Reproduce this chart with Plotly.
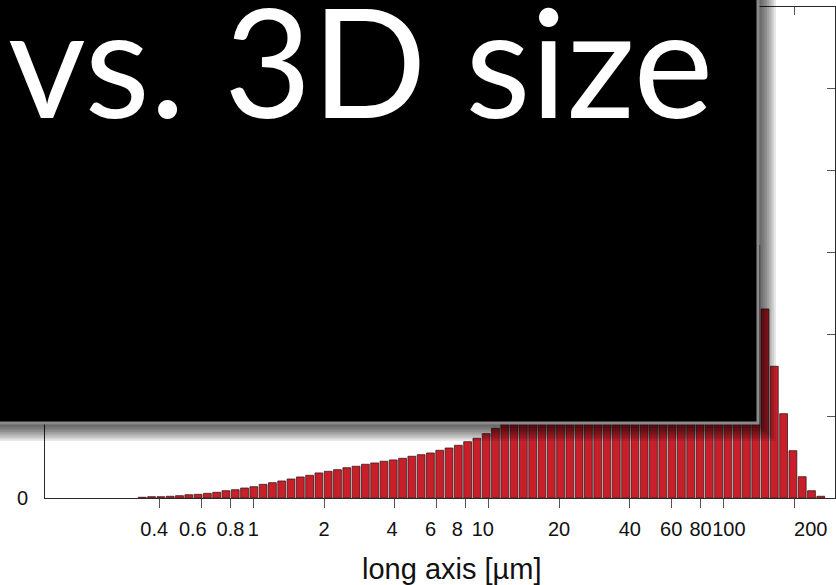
import plotly.graph_objects as go

# ---------------- data ----------------
bin_edges_um = [
    0.3221, 0.3527, 0.3864, 0.4232, 0.4636, 0.5078, 0.5562, 0.6092, 0.6673, 0.7309,
    0.8006, 0.8769, 0.9605, 1.0521, 1.1524, 1.2623, 1.3826, 1.5144, 1.6588, 1.8170,
    1.9902, 2.1800, 2.3878, 2.6155, 2.8649, 3.1381, 3.4373, 3.7651, 4.1240, 4.5173,
    4.9480, 5.4197, 5.9366, 6.5027, 7.1225, 7.8017, 8.5455, 9.3602, 10.252, 11.230,
    12.300, 13.473, 14.757, 16.164, 17.705, 19.393, 21.242, 23.267, 25.486, 27.916,
    30.577, 33.493, 36.686, 40.184, 44.015, 48.212, 52.808, 57.843, 63.358, 69.400,
    76.017, 83.265, 91.201, 99.896, 109.42, 119.86, 131.28, 143.80, 157.51, 172.53,
    188.98, 207.00, 226.73, 248.35, 272.03,
]

share_pct = [
    0.009, 0.016, 0.016, 0.021, 0.028, 0.040, 0.045, 0.057, 0.070, 0.089,
    0.101, 0.122, 0.138, 0.167, 0.187, 0.208, 0.232, 0.257, 0.277, 0.306,
    0.326, 0.346, 0.370, 0.388, 0.412, 0.428, 0.449, 0.465, 0.485, 0.510,
    0.529, 0.550, 0.583, 0.611, 0.644, 0.688, 0.730, 0.786, 0.852, 0.93,
    1.02, 1.12, 1.23, 1.35, 1.48, 1.62, 1.77, 1.93, 2.10, 2.28,
    2.47, 2.67, 2.88, 3.10, 3.33, 3.57, 3.82, 4.08, 4.35, 4.62,
    4.88, 5.10, 5.25, 5.20, 4.85, 4.05, 3.09, 2.31, 1.61, 1.03,
    0.578, 0.260, 0.089, 0.021,
]

x_tick_values = [0.4, 0.6, 0.8, 1, 2, 4, 6, 8, 10, 20, 40, 60, 80, 100, 200]
x_tick_labels = ["0.4", "0.6", "0.8", "1", "2", "4", "6", "8", "10",
                 "20", "40", "60", "80", "100", "200"]
y_tick_values = [0, 1, 2, 3, 4, 5, 6]
y_tick_labels = ["0", "1", "2", "3", "4", "5", "6"]

overlay_text = "vs. 3D size"
x_title_text = "long axis [µm]"

# ---------------- styling / layout helpers ----------------
NB = "\u00a0"
label_pad = {"0.4": (0, 2), "0.6": (0, 3), "4": (0, 1), "6": (0, 2), "8": (0, 3),
             "10": (0, 2), "100": (2, 0), "200": (6, 0)}
shown_labels = []
for lab in x_tick_labels:
    lead, trail = label_pad.get(lab, (0, 0))
    shown_labels.append(NB * lead + lab + NB * trail)

X_RANGE = [-0.8864, 2.4753]
Y_RANGE = [0, 6]
PL, PR, PT, PB = 45, 835, 7, 498


def px_x(p):
    return (p - PL) / (PR - PL)


def px_y(p):
    return (PB - p) / (PB - PT)


# bar extents on the log axis (small gap between bins)
gap = 0.08
bar_x, bar_w = [], []
for a, b in zip(bin_edges_um[:-1], bin_edges_um[1:]):
    r = (b / a) ** gap
    lo, hi = a * r, b / r
    bar_x.append((lo + hi) / 2)
    bar_w.append(hi - lo)

fig = go.Figure()
fig.add_trace(go.Bar(
    x=bar_x, y=share_pct, width=bar_w,
    marker=dict(color="#c81f2b", line=dict(color="#3a1a1a", width=0.8)),
    hoverinfo="skip", showlegend=False,
))
# helper trace to activate the mirrored (top/right) axes
fig.add_trace(go.Scatter(
    x=bin_edges_um[:1], y=share_pct[:1], xaxis="x2", yaxis="y2",
    mode="markers", marker=dict(opacity=0), hoverinfo="skip", showlegend=False,
))

axis_color = "#2a2a2a"
tick_font = dict(family="Liberation Sans, Arial, sans-serif", size=20, color="#111111")

fig.update_layout(
    width=836, height=585,
    margin=dict(l=PL, r=836 - PR, t=PT, b=585 - PB),
    paper_bgcolor="white", plot_bgcolor="white",
    showlegend=False,
    xaxis=dict(type="log", range=X_RANGE, tickmode="array",
               tickvals=x_tick_values, ticktext=shown_labels, tickangle=0,
               ticks="outside", ticklen=9, tickwidth=1, tickcolor="#555555",
               showline=True, linecolor=axis_color, linewidth=1,
               showgrid=False, zeroline=False, tickfont=tick_font,
               ticklabelstandoff=4),
    xaxis2=dict(type="log", range=X_RANGE, overlaying="x", side="top",
                tickmode="array", tickvals=x_tick_values, ticks="inside", ticklen=8,
                tickwidth=1, tickcolor="#555555", showticklabels=False,
                showline=True, linecolor=axis_color, linewidth=1,
                showgrid=False, zeroline=False),
    yaxis=dict(range=Y_RANGE, tickmode="array", tickvals=y_tick_values,
               ticktext=y_tick_labels, ticks="inside", ticklen=8, tickwidth=1,
               tickcolor="#555555", showline=True, linecolor=axis_color, linewidth=1,
               showgrid=False, zeroline=False, tickfont=tick_font,
               ticklabelstandoff=12),
    yaxis2=dict(range=Y_RANGE, overlaying="y", side="right", tickmode="array",
                tickvals=y_tick_values, ticks="inside", ticklen=8, tickwidth=1,
                tickcolor="#555555", showticklabels=False, showline=True,
                linecolor=axis_color, linewidth=1, showgrid=False, zeroline=False),
)

# soft shadow of the title slab
shapes = []
box_r, box_b = 758, 423
for k in range(10, 0, -1):
    shapes.append(dict(
        type="rect", xref="paper", yref="paper", layer="above",
        x0=px_x(-60), y0=px_y(box_b + 1.8 * k), x1=px_x(box_r + 1.8 * k), y1=px_y(-60),
        fillcolor="rgba(0,0,0,0.09)", line=dict(width=0),
    ))
# the black title slab
shapes.append(dict(
    type="rect", xref="paper", yref="paper", layer="above",
    x0=px_x(-60), y0=px_y(box_b), x1=px_x(box_r), y1=px_y(-60),
    fillcolor="black", line=dict(color="#8a8a8a", width=3),
))
fig.update_layout(shapes=shapes)

fig.add_annotation(
    text=overlay_text, xref="paper", yref="paper",
    x=px_x(6), y=px_y(152), xanchor="left", yanchor="bottom",
    showarrow=False, font=dict(family="Lato, sans-serif", size=151, color="white"),
)
fig.add_annotation(
    text=x_title_text, xref="paper", yref="paper",
    x=px_x(452), y=px_y(569), xanchor="center", yanchor="middle",
    showarrow=False,
    font=dict(family="Liberation Sans, Arial, sans-serif", size=29, color="#111111"),
)

fig.write_html(
    "out.html",
    config={"displayModeBar": False},
    post_script="document.body.style.margin='0';document.body.style.overflow='hidden';",
)
